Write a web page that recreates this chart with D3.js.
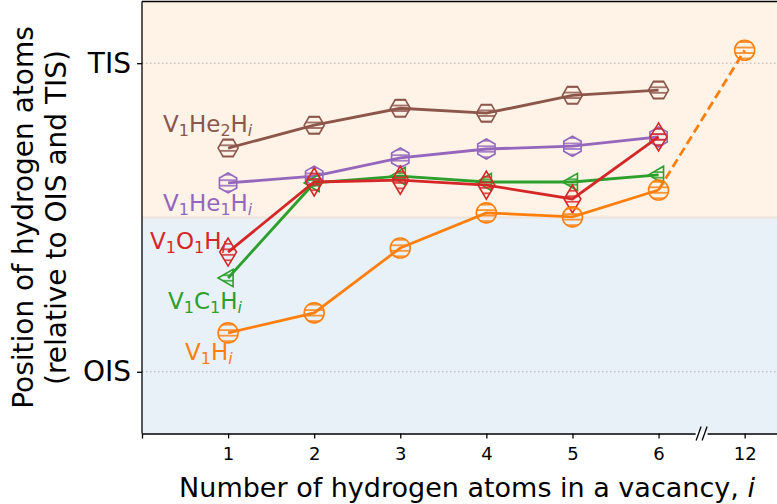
<html>
<head>
<script src="https://cdnjs.cloudflare.com/ajax/libs/d3/7.8.5/d3.min.js"></script>
<style>
  body { margin: 0; background: #fff; }
  svg { font-family: "DejaVu Sans", sans-serif; }
  .grid { stroke: #b0b0b0; stroke-width: 1; stroke-dasharray: 1.5,2.5; }
</style>
</head>
<body>
<svg id="chart" width="777" height="504"></svg>
<script>
// x positions (12 is drawn at slot 7, after the axis break)
var slots = [1, 2, 3, 4, 5, 6, 7];
var tickLabels = ["1", "2", "3", "4", "5", "6", "12"];

// 0 = OIS, 1 = TIS
var vHe2H = [0.725, 0.799, 0.854, 0.838, 0.896, 0.913];
var vHe1H = [0.612, 0.634, 0.693, 0.722, 0.731, 0.761];
var vO1H  = [0.388, 0.615, 0.621, 0.605, 0.560, 0.761];
var vC1H  = [0.304, 0.612, 0.634, 0.615, 0.615, 0.638];
var vH    = [0.126, 0.191, 0.401, 0.515, 0.502, 0.589];
var vH12  = 1.042;

var series = [
  {name: ["V", "1", "He", "2", "H", "i"], vals: vHe2H, color: "#8c564b", marker: "H", lab: [0.244, 0.777]},
  {name: ["V", "1", "He", "1", "H", "i"], vals: vHe1H, color: "#9467bd", marker: "h", lab: [0.244, 0.521]},
  {name: ["V", "1", "C", "1", "H", "i"], vals: vC1H, color: "#2ca02c", marker: "<", lab: [0.302, 0.203]},
  {name: ["V", "1", "O", "1", "H", "i"], vals: vO1H, color: "#d62728", marker: "d", lab: [0.093, 0.398]},
  {name: ["V", "1", "H", "i"], vals: vH, color: "#ff7f0e", marker: "o", lab: [0.5, 0.038]}
];

var svg = d3.select("#chart");
var pLeft = 142, pRight = 792, pTop = 1.5, pBottom = 433.5;

var x = d3.scaleLinear().domain([0, 7.55]).range([pLeft, pRight]);
var y = d3.scaleLinear().domain([-0.2, 1.2]).range([pBottom, pTop]);

// hatch patterns
var defs = svg.append("defs");
series.forEach(function(s, k) {
  var p = defs.append("pattern").attr("id", "hatch" + k)
    .attr("patternUnits", "userSpaceOnUse").attr("width", 6).attr("height", 5.5);
  p.append("line").attr("x1", 0).attr("x2", 6).attr("y1", 2.75).attr("y2", 2.75)
    .attr("stroke", s.color).attr("stroke-width", 1.5);
});
defs.append("clipPath").attr("id", "plotclip").append("rect")
  .attr("x", pLeft).attr("y", pTop).attr("width", pRight - pLeft).attr("height", pBottom - pTop);

// background spans
svg.append("rect").attr("x", pLeft).attr("width", pRight - pLeft)
  .attr("y", y(1.2)).attr("height", y(0.5) - y(1.2)).attr("fill", "#fff2e7");
svg.append("rect").attr("x", pLeft).attr("width", pRight - pLeft)
  .attr("y", y(0.5)).attr("height", y(-0.2) - y(0.5)).attr("fill", "#e9f1f8");
svg.append("line").attr("x1", pLeft).attr("x2", pRight).attr("y1", y(0.5)).attr("y2", y(0.5))
  .attr("stroke", "#ece3dc").attr("stroke-width", 2);

// grid
[0, 1].forEach(function(v) {
  svg.append("line").attr("class", "grid").attr("x1", pLeft).attr("x2", pRight)
    .attr("y1", y(v)).attr("y2", y(v));
});

function markerPath(m, r) {
  var pts = [], i, a;
  if (m === "o") {
    return "M" + r + ",0A" + r + "," + r + " 0 1,1 " + (-r) + ",0A" + r + "," + r + " 0 1,1 " + r + ",0Z";
  }
  if (m === "H") { for (i = 0; i < 6; i++) { a = Math.PI / 3 * i; pts.push([r * Math.cos(a), r * Math.sin(a)]); } }
  if (m === "h") { for (i = 0; i < 6; i++) { a = Math.PI / 3 * i + Math.PI / 6; pts.push([r * Math.cos(a), r * Math.sin(a)]); } }
  if (m === "<") { pts = [[-r, 0], [r * 0.5, -r * 0.87], [r * 0.5, r * 0.87]]; }
  if (m === "d") { var h = r * 1.4; pts = [[0, -h], [h * 0.6, 0], [0, h], [-h * 0.6, 0]]; }
  return "M" + pts.map(function(p) { return p.join(","); }).join("L") + "Z";
}

var g = svg.append("g").attr("clip-path", "url(#plotclip)");
var line = d3.line().x(function(d) { return x(d[0]); }).y(function(d) { return y(d[1]); });

series.forEach(function(s, k) {
  var pts = s.vals.map(function(v, i) { return [slots[i], v]; });
  g.append("path").attr("d", line(pts)).attr("fill", "none")
    .attr("stroke", s.color).attr("stroke-width", 2.8);
  if (s.marker === "o") {
    pts.push([slots[6], vH12]);
    g.append("path").attr("d", line(pts.slice(5))).attr("fill", "none")
      .attr("stroke", s.color).attr("stroke-width", 2.8).attr("stroke-dasharray", "9,4.5");
  }
  g.selectAll(null).data(pts).enter().append("path")
    .attr("transform", function(d) { return "translate(" + x(d[0]) + "," + y(d[1]) + ")"; })
    .attr("d", markerPath(s.marker, 10))
    .attr("fill", "url(#hatch" + k + ")")
    .attr("stroke", s.color).attr("stroke-width", 1.6);

  // label with subscripts
  var t = svg.append("text").attr("x", x(s.lab[0])).attr("y", y(s.lab[1]))
    .attr("fill", s.color).attr("font-size", 23);
  for (var j = 0; j < s.name.length; j += 2) {
    t.append("tspan").text(s.name[j]).attr("dy", j === 0 ? 0 : -4);
    var sub = t.append("tspan").text(s.name[j + 1]).attr("font-size", 16).attr("dy", 4);
    if (s.name[j + 1] === "i") sub.attr("font-style", "italic");
  }
});

// spines
svg.append("line").attr("x1", pLeft).attr("x2", pRight).attr("y1", pTop).attr("y2", pTop)
  .attr("stroke", "#000").attr("stroke-width", 1.3);
svg.append("line").attr("x1", pLeft).attr("x2", pLeft).attr("y1", pTop).attr("y2", pBottom)
  .attr("stroke", "#000").attr("stroke-width", 1.3);

// x axis
var xAxis = d3.axisBottom(x).tickValues(slots)
  .tickFormat(function(d, i) { return tickLabels[i]; }).tickSize(5).tickPadding(9);
var xg = svg.append("g").attr("transform", "translate(0," + pBottom + ")").call(xAxis);
xg.select(".domain").attr("stroke-width", 1.3);
xg.selectAll(".tick line").attr("stroke-width", 1.3);
xg.selectAll("text").attr("font-size", 18).attr("font-family", "DejaVu Sans").attr("fill", "#000");

// axis break marks
var bx = x(6.5);
svg.append("rect").attr("x", bx - 6).attr("y", pBottom - 2).attr("width", 12).attr("height", 4).attr("fill", "#fff");
[-3, 3].forEach(function(o) {
  svg.append("line").attr("x1", bx + o - 2.5).attr("x2", bx + o + 2.5)
    .attr("y1", pBottom + 7).attr("y2", pBottom - 7).attr("stroke", "#000").attr("stroke-width", 1.3);
});

// y axis
var yAxis = d3.axisLeft(y).tickValues([0, 1])
  .tickFormat(function(d) { return d === 1 ? "TIS" : "OIS"; }).tickSize(5).tickPadding(6);
var yg = svg.append("g").attr("transform", "translate(" + pLeft + ",0)").call(yAxis);
yg.select(".domain").remove();
yg.selectAll(".tick line").attr("stroke-width", 1.3);
yg.selectAll("text").attr("font-size", 28).attr("font-family", "DejaVu Sans").attr("fill", "#000");

// titles
svg.append("text").attr("x", x((0 + 7.55) / 2)).attr("y", 497).attr("text-anchor", "middle")
  .attr("font-size", 27).html('Number of hydrogen atoms in a vacancy, <tspan font-style="italic">i</tspan>');
var yt = svg.append("text").attr("transform", "translate(33," + (pTop + pBottom) / 2 + ") rotate(-90)")
  .attr("text-anchor", "middle").attr("font-size", 28);
yt.append("tspan").attr("x", 0).attr("y", 0).text("Position of hydrogen atoms");
yt.append("tspan").attr("x", 0).attr("y", 33).text("(relative to OIS and TIS)");
</script>
</body>
</html>
